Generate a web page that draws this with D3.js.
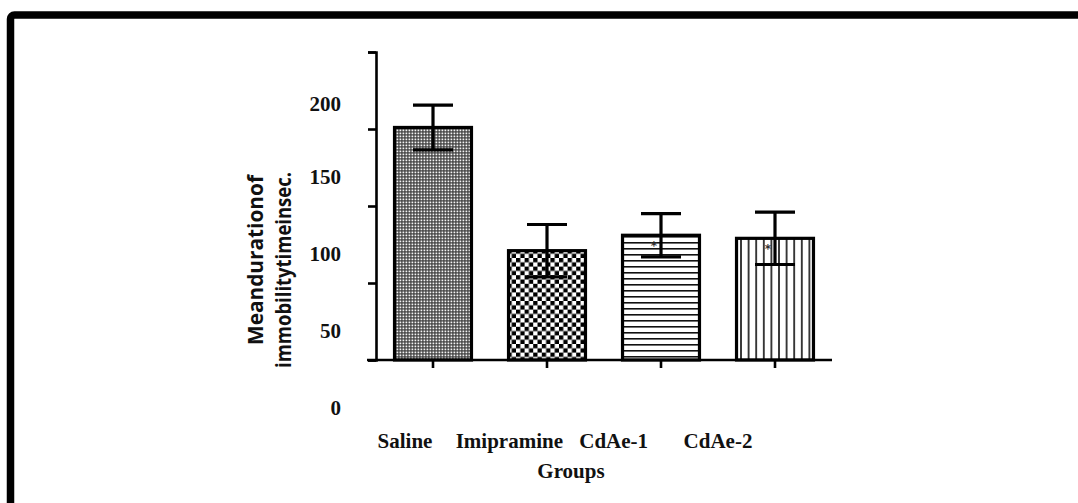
<!DOCTYPE html>
<html>
<head>
<meta charset="utf-8">
<script src="https://cdn.jsdelivr.net/npm/d3@7"></script>
<style>
  html, body { margin: 0; padding: 0; background: #fff; }
  svg { display: block; }
</style>
</head>
<body>
<svg id="chart" width="1078" height="503"></svg>
<script>
// Immobility time per treatment group (mean ± SEM, seconds)
const groups = ["Saline", "Imipramine", "CdAe-1", "CdAe-2"];
const means = [151, 71, 81, 79];
const sems = [14.5, 17, 14, 17];
const yTicks = [0, 50, 100, 150, 200];
const yTitle = ["Meandurationof", "immobilitytimeinsec."];
const xTitle = "Groups";
const marked = [false, false, true, true];

const svg = d3.select("#chart");
const defs = svg.append("defs");

// Fill patterns, one per group
const pFine = defs.append("pattern").attr("id", "p0").attr("patternUnits", "userSpaceOnUse")
  .attr("width", 3).attr("height", 3);
pFine.append("rect").attr("width", 3).attr("height", 3).attr("fill", "#3a3a3a");
pFine.append("rect").attr("x", 0.5).attr("y", 0.5).attr("width", 1.8).attr("height", 1.8).attr("fill", "#f4f4f4");

const pCheck = defs.append("pattern").attr("id", "p1").attr("patternUnits", "userSpaceOnUse")
  .attr("width", 8.6).attr("height", 8.6);
pCheck.append("rect").attr("width", 8.6).attr("height", 8.6).attr("fill", "#fff");
pCheck.append("rect").attr("width", 4.3).attr("height", 4.3).attr("fill", "#000");
pCheck.append("rect").attr("x", 4.3).attr("y", 4.3).attr("width", 4.3).attr("height", 4.3).attr("fill", "#000");

const pHor = defs.append("pattern").attr("id", "p2").attr("patternUnits", "userSpaceOnUse")
  .attr("width", 6).attr("height", 6);
pHor.append("rect").attr("width", 6).attr("height", 6).attr("fill", "#fff");
pHor.append("rect").attr("y", 2).attr("width", 6).attr("height", 1.6).attr("fill", "#111");

const pVer = defs.append("pattern").attr("id", "p3").attr("patternUnits", "userSpaceOnUse")
  .attr("width", 7.6).attr("height", 7.6);
pVer.append("rect").attr("width", 7.6).attr("height", 7.6).attr("fill", "#fff");
pVer.append("rect").attr("x", 3).attr("width", 1.6).attr("height", 7.6).attr("fill", "#111");

// Outer frame
svg.append("rect")
  .attr("x", 10.5).attr("y", 15).attr("width", 1200).attr("height", 700)
  .attr("rx", 4).attr("fill", "none").attr("stroke", "#000").attr("stroke-width", 7.5);

const x = d3.scaleBand().domain(groups).range([376, 832]).paddingInner(0.325).paddingOuter(0.1625);
const y = d3.scaleLinear().domain([0, 200]).range([360, 52]);
const xLabel = d3.scalePoint().domain(groups).range([405, 718]);

// Bars
svg.append("g").selectAll("rect").data(groups).join("rect")
  .attr("x", d => x(d))
  .attr("y", (d, i) => y(means[i]))
  .attr("width", x.bandwidth())
  .attr("height", (d, i) => y(0) - y(means[i]))
  .attr("fill", (d, i) => `url(#p${i})`)
  .attr("stroke", "#000").attr("stroke-width", 3.2);

// Significance marks
svg.append("g").selectAll("text").data(groups.filter((g, i) => marked[i])).join("text")
  .attr("x", d => x(d) + x.bandwidth() / 2 - 7)
  .attr("y", d => y(means[groups.indexOf(d)]) + 15)
  .attr("text-anchor", "middle")
  .attr("font-family", "DejaVu Sans").attr("font-weight", "bold").attr("font-size", 12).attr("fill", "#333")
  .text("*");

// Error bars
const eb = svg.append("g").attr("stroke", "#000").attr("stroke-width", 3.2).attr("fill", "none");
groups.forEach((g, i) => {
  const cx = x(g) + x.bandwidth() / 2;
  const hi = y(means[i] + sems[i]), lo = y(means[i] - sems[i]);
  eb.append("line").attr("x1", cx).attr("x2", cx).attr("y1", hi).attr("y2", lo);
  eb.append("line").attr("x1", cx - 20).attr("x2", cx + 20).attr("y1", hi).attr("y2", hi);
  eb.append("line").attr("x1", cx - 20).attr("x2", cx + 20).attr("y1", lo).attr("y2", lo);
});

// Y axis (tick labels sit below their ticks)
const yAxis = svg.append("g").attr("transform", "translate(376,0)")
  .call(d3.axisLeft(y).tickValues(yTicks).tickSize(8).tickPadding(27));
yAxis.select(".domain").attr("stroke-width", 2.6);
yAxis.selectAll(".tick line").attr("stroke-width", 2.6);
yAxis.selectAll(".tick text")
  .attr("dy", "0.32em")
  .attr("transform", d => `translate(0,${d === 200 ? 52 : 48})`)
  .attr("font-family", "Liberation Serif").attr("font-weight", "bold").attr("font-size", 21)
  .attr("fill", "#111");

// X axis
const xAxis = svg.append("g").attr("transform", "translate(0,360)")
  .call(d3.axisBottom(x).tickSize(8).tickSizeOuter(0).tickFormat(""));
xAxis.select(".domain").attr("stroke-width", 2.6).attr("d", "M367,0H832");
xAxis.selectAll(".tick line").attr("stroke-width", 2.6);

// Group names
svg.append("g").selectAll("text").data(groups).join("text")
  .attr("x", d => xLabel(d)).attr("y", 448)
  .attr("text-anchor", "middle")
  .attr("font-family", "Liberation Serif").attr("font-weight", "bold").attr("font-size", 21)
  .attr("fill", "#111")
  .text(d => d);

svg.append("text")
  .attr("x", 571).attr("y", 478).attr("text-anchor", "middle")
  .attr("font-family", "Liberation Serif").attr("font-weight", "bold").attr("font-size", 21)
  .attr("fill", "#111").text(xTitle);

// Y axis title, two lines
const titleLen = [170, 196];
const titleMid = [260, 270];
svg.append("g").selectAll("text").data(yTitle).join("text")
  .attr("transform", (d, i) => `translate(${263 + i * 28},${titleMid[i]}) rotate(-90)`)
  .attr("text-anchor", "middle")
  .attr("font-family", "Open Sans").attr("font-weight", "bold").attr("font-size", 21)
  .attr("textLength", (d, i) => titleLen[i]).attr("lengthAdjust", "spacingAndGlyphs")
  .attr("fill", "#111").text(d => d);
</script>
</body>
</html>
